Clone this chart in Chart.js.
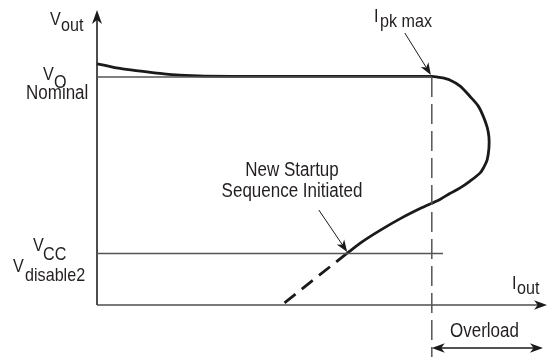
<!DOCTYPE html>
<html>
<head>
<meta charset="utf-8">
<script src="https://cdn.jsdelivr.net/npm/chart.js@4/dist/chart.umd.min.js"></script>
<style>
  html, body { margin: 0; padding: 0; background: #fff; }
  #wrap { width: 556px; height: 360px; }
</style>
</head>
<body>
<div id="wrap"><canvas id="chart" width="556" height="360"></canvas></div>
<script>
// Vout vs Iout, arbitrary units (both axes 0..100)
const curveX = [0, 1.8, 5.1, 9.6, 14.0, 18.4, 24.0, 36.2, 51.8, 71.8, 74.4, 76.4, 78.4, 80.7, 82.9,
  84.7, 85.8, 86.7, 87.1, 87.1, 86.7, 86.0, 85.1, 82.9, 80.7, 78.4, 76.2, 71.8, 67.3, 62.9, 58.9, 55.6];
const curveY = [81.7, 81.2, 80.2, 79.3, 78.5, 77.9, 77.6, 77.5, 77.5, 77.5, 77.5, 77.1, 76.3, 74.2, 70.7,
  67.5, 64.1, 60.3, 56.9, 53.2, 49.2, 46.8, 44.7, 42.0, 39.7, 37.8, 35.8, 32.7, 29.2, 25.3, 21.4, 17.6];
const restartX = [55.6, 41.3];
const restartY = [17.6, 0.3];

const voNominal = 77.3;
const vccLevel = 17.5;
const vccLineEnd = 76.9;
const ipkMax = 74.4;
const ipkLineBottom = -17.6;
const overloadY = -14.6;
const overloadEnd = 99.1;

const ipkArrow = [[68.4, 92.2], [74.2, 78.0]];
const restartArrow = [[49.3, 32.2], [55.6, 18.0]];

const SQUEEZE = 0.85;
const TEXT = "#231f20";
const AXIS = "#4d4d4d";

function pts(xs, ys) {
  return xs.map((x, i) => ({ x, y: ys[i] }));
}

function drawText(ctx, str, x, y, size, align) {
  ctx.save();
  ctx.font = `${size}px "Liberation Sans", Arial, sans-serif`;
  ctx.fillStyle = TEXT;
  ctx.textAlign = align || "left";
  ctx.textBaseline = "alphabetic";
  ctx.translate(x, y);
  ctx.scale(SQUEEZE, 1);
  ctx.fillText(str, 0, 0);
  ctx.restore();
}

function arrowHead(ctx, tx, ty, fx, fy, len, half) {
  const a = Math.atan2(ty - fy, tx - fx);
  ctx.save();
  ctx.translate(tx, ty);
  ctx.rotate(a);
  ctx.beginPath();
  ctx.moveTo(0, 0);
  ctx.lineTo(-len, -half);
  ctx.lineTo(-len * 0.72, 0);
  ctx.lineTo(-len, half);
  ctx.closePath();
  ctx.fill();
  ctx.restore();
}

function arrowLine(ctx, x1, y1, x2, y2, len, half, width) {
  const a = Math.atan2(y2 - y1, x2 - x1);
  ctx.lineWidth = width;
  ctx.beginPath();
  ctx.moveTo(x1, y1);
  ctx.lineTo(x2 - Math.cos(a) * len * 0.7, y2 - Math.sin(a) * len * 0.7);
  ctx.stroke();
  arrowHead(ctx, x2, y2, x1, y1, len, half);
}

const axesPlugin = {
  id: "axesArrows",
  beforeDatasetsDraw(chart) {
    const { ctx, scales: { x, y } } = chart;
    const x0 = x.getPixelForValue(0), y0 = y.getPixelForValue(0);
    const xEnd = x.getPixelForValue(100), yTop = y.getPixelForValue(100);
    ctx.save();
    ctx.strokeStyle = AXIS;
    ctx.fillStyle = "#1a1a1a";
    ctx.lineWidth = 2;
    ctx.beginPath();
    ctx.moveTo(x0, y0);
    ctx.lineTo(x0, yTop + 8);
    ctx.stroke();
    arrowHead(ctx, x0, yTop, x0, y0, 14, 5);
    ctx.lineWidth = 1.6;
    ctx.beginPath();
    ctx.moveTo(x0, y0);
    ctx.lineTo(xEnd - 8, y0);
    ctx.stroke();
    arrowHead(ctx, xEnd, y0, x0, y0, 13, 4.8);
    ctx.restore();
  },
  afterDatasetsDraw(chart) {
    const { ctx, scales: { x, y } } = chart;
    ctx.save();
    ctx.strokeStyle = "#1a1a1a";
    ctx.fillStyle = "#1a1a1a";
    const a1 = ipkArrow.map(([px, py]) => [x.getPixelForValue(px), y.getPixelForValue(py)]);
    arrowLine(ctx, a1[0][0], a1[0][1], a1[1][0], a1[1][1], 12, 4.5, 1);
    const a2 = restartArrow.map(([px, py]) => [x.getPixelForValue(px), y.getPixelForValue(py)]);
    arrowLine(ctx, a2[0][0], a2[0][1], a2[1][0], a2[1][1], 12, 4.5, 1);

    const oy = y.getPixelForValue(overloadY);
    const ox1 = x.getPixelForValue(ipkMax), ox2 = x.getPixelForValue(overloadEnd);
    ctx.lineWidth = 1.5;
    ctx.beginPath();
    ctx.moveTo(ox1 + 8, oy);
    ctx.lineTo(ox2 - 8, oy);
    ctx.stroke();
    arrowHead(ctx, ox1, oy, ox2, oy, 13, 4.8);
    arrowHead(ctx, ox2, oy, ox1, oy, 13, 4.8);
    ctx.restore();

    // labels
    drawText(ctx, "V", 50, 25, 19);
    drawText(ctx, "out", 61, 31, 19);
    drawText(ctx, "V", 43, 80, 19);
    drawText(ctx, "O", 54, 88, 19);
    drawText(ctx, "Nominal", 26, 99, 20);
    drawText(ctx, "V", 33, 251, 19);
    drawText(ctx, "CC", 43, 260, 19);
    drawText(ctx, "V", 13, 272, 19);
    drawText(ctx, "disable2", 25, 281, 19);
    drawText(ctx, "I", 374, 22, 19);
    drawText(ctx, "pk max", 380, 27, 19);
    drawText(ctx, "New Startup", 292, 176, 20, "center");
    drawText(ctx, "Sequence Initiated", 292, 197, 20, "center");
    drawText(ctx, "I", 512, 289, 19);
    drawText(ctx, "out", 517, 294, 19);
    drawText(ctx, "Overload", 450, 337, 20);
  }
};

new Chart(document.getElementById("chart"), {
  type: "scatter",
  data: {
    datasets: [
      {
        data: pts([0, ipkMax], [voNominal, voNominal]),
        showLine: true, borderColor: "#555", borderWidth: 1.5, pointRadius: 0, clip: false,
      },
      {
        data: pts([0, vccLineEnd], [vccLevel, vccLevel]),
        showLine: true, borderColor: "#555", borderWidth: 1.5, pointRadius: 0, clip: false,
      },
      {
        data: pts([ipkMax, ipkMax], [voNominal, ipkLineBottom]),
        showLine: true, borderColor: "#555", borderWidth: 1.5, borderDash: [20, 7],
        pointRadius: 0, clip: false,
      },
      {
        data: pts(curveX, curveY),
        showLine: true, borderColor: "#1a1a1a", borderWidth: 2.8, tension: 0.3,
        pointRadius: 0, clip: false,
      },
      {
        data: pts(restartX, restartY),
        showLine: true, borderColor: "#1a1a1a", borderWidth: 2.8, borderDash: [14, 8],
        pointRadius: 0, clip: false,
      },
    ],
  },
  options: {
    responsive: false,
    animation: false,
    devicePixelRatio: 1,
    layout: { padding: { left: 97, right: 9, top: 10, bottom: 55 } },
    scales: {
      x: { type: "linear", min: 0, max: 100, display: false },
      y: { type: "linear", min: 0, max: 100, display: false },
    },
    plugins: { legend: { display: false }, tooltip: { enabled: false } },
  },
  plugins: [axesPlugin],
});
</script>
</body>
</html>
